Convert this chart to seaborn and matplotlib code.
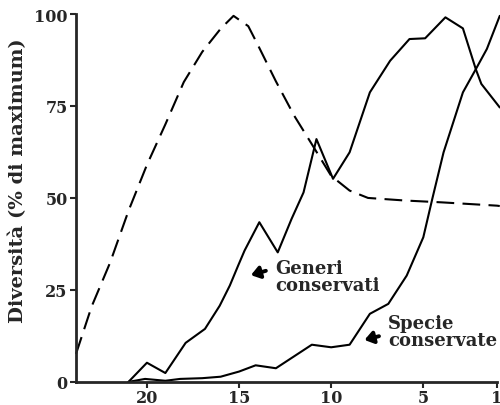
import matplotlib
matplotlib.use("Agg")
import matplotlib.pyplot as plt
import seaborn as sns
import pandas as pd

# time (Ma) and diversity (% of maximum)
dashed_t = [23.85, 23.0, 22.0, 21.0, 20.0, 19.0, 18.0, 17.0, 16.0, 15.3, 14.5,
            14.0, 13.0, 12.0, 11.0, 10.0, 9.0, 8.0, 6.0, 4.0, 1.0, 0.85]
dashed_v = [7.6, 20.5, 32.4, 46.5, 59.0, 70.0, 81.5, 89.7, 96.0, 99.5, 96.7,
            91.8, 81.7, 72.3, 64.2, 56.0, 52.0, 50.0, 49.3, 48.8, 47.9, 47.8]

generi_t = [21.0, 20.0, 19.0, 17.9, 16.85, 16.05, 15.5, 15.05, 14.7, 13.9, 12.9,
            12.15, 11.5, 10.8, 9.9, 9.0, 7.9, 6.8, 5.75, 4.9, 3.8, 2.85, 2.15,
            1.85, 0.85]
generi_v = [0.0, 5.2, 2.4, 10.6, 14.4, 20.7, 26.2, 31.6, 35.7, 43.4, 35.2,
            44.3, 51.5, 66.0, 55.2, 62.4, 78.7, 87.3, 93.2, 93.4, 99.1, 96.1, 85.0,
            81.0, 74.6]

specie_t = [21.0, 20.1, 19.0, 18.2, 17.0, 16.0, 15.0, 14.1, 13.0, 11.05, 10.0,
            9.0, 7.9, 6.9, 5.9, 5.0, 4.5, 3.9, 2.85, 2.15, 1.55, 0.85]
specie_v = [0.0, 0.8, 0.3, 0.8, 1.0, 1.4, 2.8, 4.5, 3.7, 10.1, 9.4,
            10.1, 18.5, 21.2, 28.9, 39.3, 50.0, 62.4, 78.7, 85.0, 90.5, 99.5]

x_ticks = [20, 15, 10, 5, 1]
y_ticks = [0, 25, 50, 75, 100]

sns.set_style("ticks")
plt.rcParams["font.family"] = ["DejaVu Serif"]
plt.rcParams["font.weight"] = "bold"

fig = plt.figure(figsize=(5.0, 4.06), dpi=100)
ax = fig.add_axes([0.152, 0.057, 0.842, 0.906])

df_d = pd.DataFrame({"t": dashed_t, "v": dashed_v})
df_g = pd.DataFrame({"t": generi_t, "v": generi_v})
df_s = pd.DataFrame({"t": specie_t, "v": specie_v})

sns.lineplot(data=df_d, x="t", y="v", ax=ax, color="black", lw=1.5,
             sort=False, clip_on=False)
ax.lines[-1].set_dashes([8.5, 4])
sns.lineplot(data=df_g, x="t", y="v", ax=ax, color="black", lw=1.5,
             sort=False, clip_on=False)
sns.lineplot(data=df_s, x="t", y="v", ax=ax, color="black", lw=1.5,
             sort=False, clip_on=False)

ax.set_xlim(23.85, 1.0)
ax.set_ylim(0, 100)
ax.set_xticks(x_ticks)
ax.set_yticks(y_ticks)
ax.tick_params(axis="both", labelsize=11.5, length=4, width=1.5, direction="out")
ax.tick_params(axis="x", pad=1)
ax.tick_params(axis="y", pad=2)
for lab in ax.get_xticklabels() + ax.get_yticklabels():
    lab.set_fontweight("bold")
sns.despine(ax=ax)
ax.spines["left"].set_linewidth(2)
ax.spines["bottom"].set_linewidth(2)

ax.set_xlabel("")
ax.set_ylabel("Diversità (% di maximum)", fontsize=14, fontweight="bold")
ax.yaxis.set_label_coords(-0.116, 0.55)

arrow = dict(arrowstyle="-|>,head_length=0.5,head_width=0.35", lw=2.8, color="black")
ax.annotate("", xy=(14.5, 28.8), xytext=(13.4, 30.4), arrowprops=arrow)
ax.text(13.05, 33.5, "Generi\nconservati", ha="left", va="top", fontsize=13,
        fontweight="bold", linespacing=0.95)
ax.annotate("", xy=(8.34, 11.2), xytext=(7.26, 12.6), arrowprops=arrow)
ax.text(6.9, 18.5, "Specie\nconservate", ha="left", va="top", fontsize=13,
        fontweight="bold", linespacing=0.95)

fig.savefig("out.png", dpi=100)
